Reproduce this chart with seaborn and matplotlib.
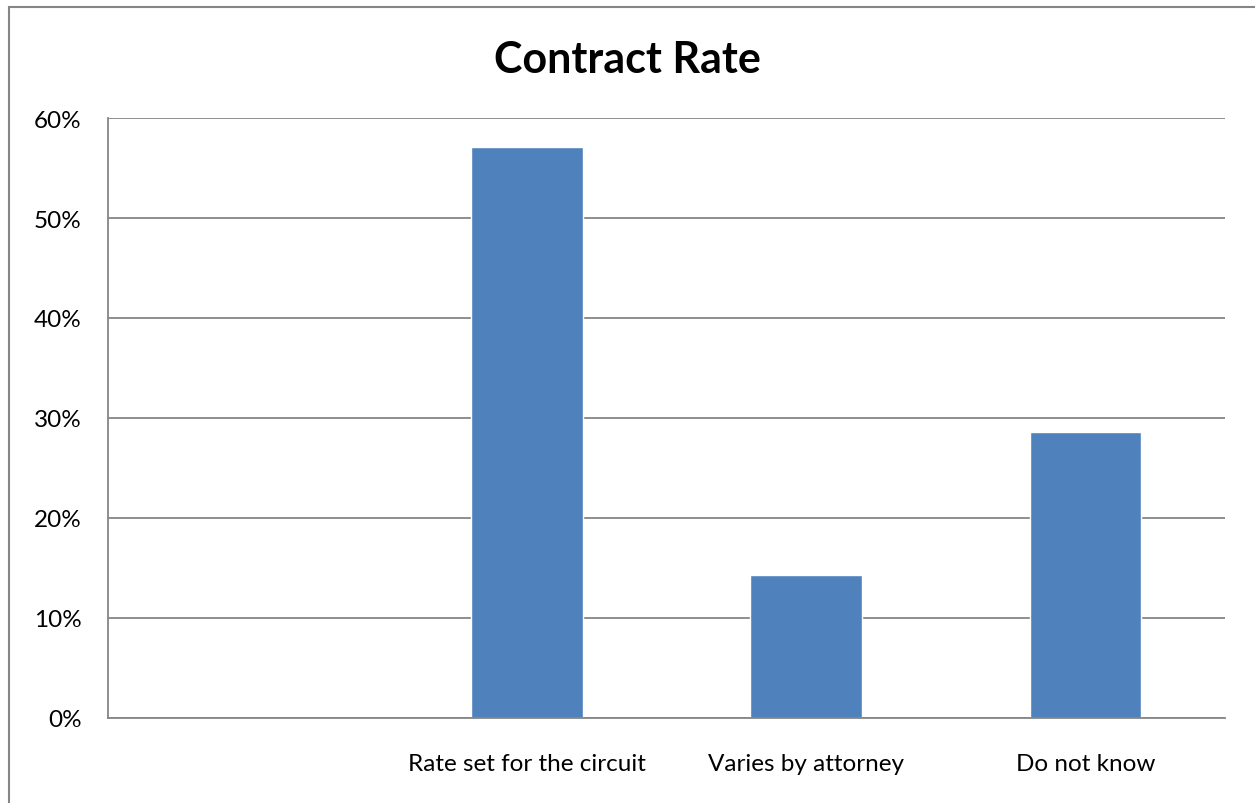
import matplotlib
matplotlib.use("Agg")
import matplotlib.pyplot as plt
from matplotlib.patches import Rectangle
from matplotlib.ticker import PercentFormatter
import seaborn as sns
import pandas as pd

categories = ["", "Rate set for the circuit", "Varies by attorney", "Do not know"]
shares = [0.0, 0.5714, 0.1429, 0.2857]
y_ticks = [0.0, 0.1, 0.2, 0.3, 0.4, 0.5, 0.6]

sns.set_theme(style="white")
plt.rcParams["font.family"] = ["Lato", "DejaVu Sans"]

df = pd.DataFrame({"category": categories, "share": shares})

fig = plt.figure(figsize=(12.55, 8.04), dpi=100)
ax = fig.add_axes([108 / 1255, 1 - 719 / 804, (1225 - 108) / 1255, 600 / 804])

sns.barplot(data=df, x="category", y="share", order=categories,
            color="#4F81BD", saturation=1, width=0.4, ax=ax)

grey = "#868686"
ax.set_ylim(0, 0.6)
ax.set_yticks(y_ticks)
ax.yaxis.set_major_formatter(PercentFormatter(1.0, decimals=0))
ax.yaxis.grid(True, color=grey, linewidth=1.3)
ax.set_axisbelow(True)
for side in ("top", "right"):
    ax.spines[side].set_visible(False)
for side in ("left", "bottom"):
    ax.spines[side].set_color(grey)
    ax.spines[side].set_linewidth(1.3)
ax.tick_params(axis="both", length=0, labelsize=17.5, colors="black")
ax.tick_params(axis="x", pad=25)
ax.tick_params(axis="y", pad=19)
ax.set_xlabel("")
ax.set_ylabel("")

fig.text(0.5, 1 - 60 / 804, "Contract Rate", ha="center", va="center",
         fontsize=31, fontweight="bold", color="black")

# chart-area frame
fig.patches.append(Rectangle((8.5 / 1255, -0.1), 1.2, 1.1 - 7.5 / 804,
                             transform=fig.transFigure, fill=False,
                             edgecolor=grey, linewidth=1.5))

fig.savefig("out.png", dpi=100)
